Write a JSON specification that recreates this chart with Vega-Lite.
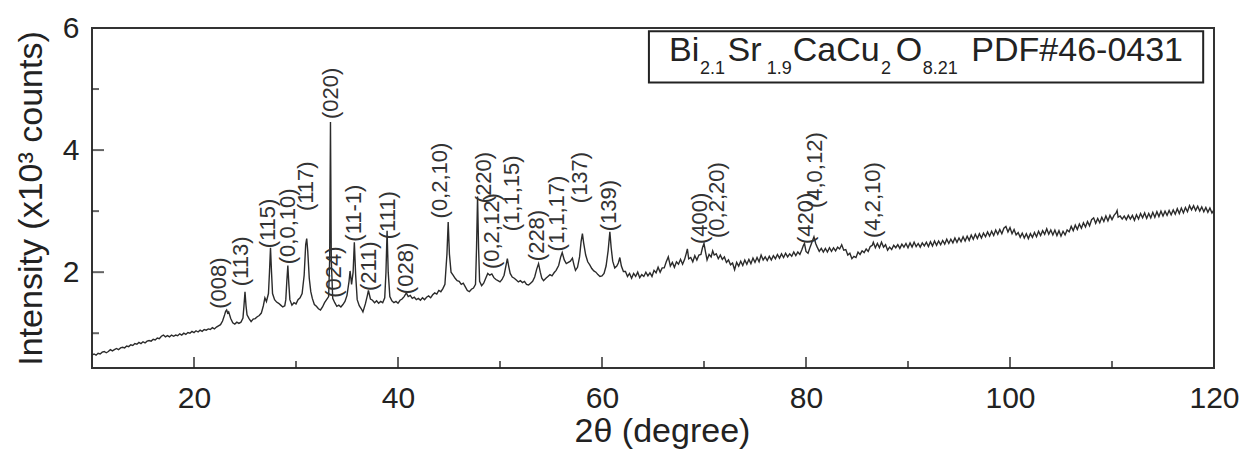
{
"$schema": "https://vega.github.io/schema/vega-lite/v6.json",
"width": 1122, "height": 340,
"autosize": "none",
"padding": {"left": 92, "top": 28, "right": 31, "bottom": 82},
"background": "white",
"config": {
  "view": {"stroke": "#333", "strokeWidth": 2},
  "font": "Liberation Sans",
  "axis": {"domain": false, "ticks": false, "tickSize": 0, "labelColor": "#222", "titleColor": "#222", "labelFont": "Liberation Sans", "titleFont": "Liberation Sans", "labelFontSize": 30, "titleFontSize": 34, "titleFontWeight": "normal", "grid": false, "labelFlush": false, "labelOverlap": false}
},
"datasets": {
"xrd": [
{"deg":10.0,"cnt":0.64},{"deg":10.2,"cnt":0.66},{"deg":10.4,"cnt":0.64},{"deg":10.6,"cnt":0.67},{"deg":10.8,"cnt":0.66},{"deg":11.0,"cnt":0.69},{"deg":11.2,"cnt":0.70},{"deg":11.4,"cnt":0.68},{"deg":11.6,"cnt":0.70},{"deg":11.8,"cnt":0.73},
{"deg":12.0,"cnt":0.71},{"deg":12.2,"cnt":0.73},{"deg":12.4,"cnt":0.75},{"deg":12.6,"cnt":0.73},{"deg":12.8,"cnt":0.76},{"deg":13.0,"cnt":0.77},{"deg":13.2,"cnt":0.76},{"deg":13.4,"cnt":0.79},{"deg":13.6,"cnt":0.78},{"deg":13.8,"cnt":0.81},
{"deg":14.0,"cnt":0.80},{"deg":14.2,"cnt":0.83},{"deg":14.4,"cnt":0.82},{"deg":14.6,"cnt":0.85},{"deg":14.8,"cnt":0.83},{"deg":15.0,"cnt":0.86},{"deg":15.2,"cnt":0.84},{"deg":15.4,"cnt":0.87},{"deg":15.6,"cnt":0.88},{"deg":15.8,"cnt":0.87},
{"deg":16.0,"cnt":0.90},{"deg":16.2,"cnt":0.89},{"deg":16.4,"cnt":0.92},{"deg":16.6,"cnt":0.91},{"deg":16.8,"cnt":0.95},{"deg":17.0,"cnt":0.97},{"deg":17.2,"cnt":0.94},{"deg":17.4,"cnt":0.96},{"deg":17.6,"cnt":0.94},{"deg":17.8,"cnt":0.97},
{"deg":18.0,"cnt":0.95},{"deg":18.2,"cnt":0.97},{"deg":18.4,"cnt":0.96},{"deg":18.6,"cnt":0.99},{"deg":18.8,"cnt":0.97},{"deg":19.0,"cnt":1.00},{"deg":19.2,"cnt":0.98},{"deg":19.4,"cnt":1.01},{"deg":19.6,"cnt":1.00},{"deg":19.8,"cnt":1.03},
{"deg":20.0,"cnt":1.01},{"deg":20.2,"cnt":1.04},{"deg":20.4,"cnt":1.02},{"deg":20.6,"cnt":1.05},{"deg":20.8,"cnt":1.03},{"deg":21.0,"cnt":1.06},{"deg":21.2,"cnt":1.05},{"deg":21.4,"cnt":1.07},{"deg":21.6,"cnt":1.06},{"deg":21.8,"cnt":1.09},
{"deg":22.0,"cnt":1.07},{"deg":22.2,"cnt":1.10},{"deg":22.4,"cnt":1.12},{"deg":22.6,"cnt":1.14},{"deg":22.8,"cnt":1.20},{"deg":23.0,"cnt":1.30},{"deg":23.1,"cnt":1.36},{"deg":23.2,"cnt":1.38},{"deg":23.3,"cnt":1.33},{"deg":23.4,"cnt":1.35},
{"deg":23.6,"cnt":1.24},{"deg":23.8,"cnt":1.17},{"deg":24.0,"cnt":1.15},{"deg":24.2,"cnt":1.18},{"deg":24.4,"cnt":1.16},{"deg":24.6,"cnt":1.18},{"deg":24.8,"cnt":1.25},{"deg":24.9,"cnt":1.45},{"deg":25.0,"cnt":1.68},{"deg":25.1,"cnt":1.45},
{"deg":25.2,"cnt":1.30},{"deg":25.4,"cnt":1.24},{"deg":25.6,"cnt":1.19},{"deg":25.8,"cnt":1.23},{"deg":26.0,"cnt":1.24},{"deg":26.2,"cnt":1.27},{"deg":26.4,"cnt":1.29},{"deg":26.6,"cnt":1.33},{"deg":26.8,"cnt":1.45},{"deg":26.95,"cnt":1.58},
{"deg":27.1,"cnt":1.52},{"deg":27.3,"cnt":1.65},{"deg":27.4,"cnt":2.00},{"deg":27.5,"cnt":2.40},{"deg":27.6,"cnt":2.00},{"deg":27.7,"cnt":1.65},{"deg":27.9,"cnt":1.55},{"deg":28.1,"cnt":1.51},{"deg":28.3,"cnt":1.49},{"deg":28.5,"cnt":1.46},
{"deg":28.7,"cnt":1.43},{"deg":28.9,"cnt":1.45},{"deg":29.0,"cnt":1.55},{"deg":29.1,"cnt":1.85},{"deg":29.2,"cnt":2.11},{"deg":29.3,"cnt":1.80},{"deg":29.4,"cnt":1.55},{"deg":29.6,"cnt":1.46},{"deg":29.8,"cnt":1.50},{"deg":30.0,"cnt":1.48},
{"deg":30.2,"cnt":1.55},{"deg":30.4,"cnt":1.58},{"deg":30.6,"cnt":1.65},{"deg":30.8,"cnt":1.95},{"deg":30.95,"cnt":2.45},{"deg":31.05,"cnt":2.55},{"deg":31.15,"cnt":2.35},{"deg":31.3,"cnt":1.90},{"deg":31.45,"cnt":1.68},{"deg":31.6,"cnt":1.57},
{"deg":31.8,"cnt":1.47},{"deg":32.0,"cnt":1.44},{"deg":32.2,"cnt":1.40},{"deg":32.4,"cnt":1.38},{"deg":32.6,"cnt":1.43},{"deg":32.8,"cnt":1.50},{"deg":33.0,"cnt":1.55},{"deg":33.2,"cnt":1.60},{"deg":33.3,"cnt":2.20},{"deg":33.38,"cnt":4.46},
{"deg":33.46,"cnt":2.20},{"deg":33.6,"cnt":1.57},{"deg":33.8,"cnt":1.50},{"deg":34.0,"cnt":1.44},{"deg":34.2,"cnt":1.46},{"deg":34.4,"cnt":1.43},{"deg":34.6,"cnt":1.47},{"deg":34.8,"cnt":1.52},{"deg":35.0,"cnt":1.62},{"deg":35.2,"cnt":1.85},
{"deg":35.3,"cnt":2.02},{"deg":35.45,"cnt":1.80},{"deg":35.6,"cnt":2.00},{"deg":35.72,"cnt":2.49},{"deg":35.85,"cnt":1.95},{"deg":36.0,"cnt":1.55},{"deg":36.2,"cnt":1.45},{"deg":36.4,"cnt":1.40},{"deg":36.56,"cnt":1.35},{"deg":36.8,"cnt":1.48},
{"deg":37.0,"cnt":1.62},{"deg":37.1,"cnt":1.70},{"deg":37.3,"cnt":1.56},{"deg":37.5,"cnt":1.54},{"deg":37.7,"cnt":1.50},{"deg":37.9,"cnt":1.53},{"deg":38.1,"cnt":1.49},{"deg":38.3,"cnt":1.52},{"deg":38.5,"cnt":1.50},{"deg":38.7,"cnt":1.58},
{"deg":38.82,"cnt":2.00},{"deg":38.93,"cnt":2.68},{"deg":39.04,"cnt":2.00},{"deg":39.2,"cnt":1.60},{"deg":39.4,"cnt":1.53},{"deg":39.6,"cnt":1.50},{"deg":39.8,"cnt":1.52},{"deg":40.0,"cnt":1.49},{"deg":40.2,"cnt":1.54},{"deg":40.4,"cnt":1.56},
{"deg":40.6,"cnt":1.60},{"deg":40.82,"cnt":1.66},{"deg":41.0,"cnt":1.60},{"deg":41.2,"cnt":1.62},{"deg":41.4,"cnt":1.57},{"deg":41.6,"cnt":1.59},{"deg":41.8,"cnt":1.55},{"deg":42.0,"cnt":1.57},{"deg":42.2,"cnt":1.54},{"deg":42.4,"cnt":1.58},
{"deg":42.6,"cnt":1.55},{"deg":42.8,"cnt":1.59},{"deg":43.0,"cnt":1.61},{"deg":43.2,"cnt":1.58},{"deg":43.4,"cnt":1.63},{"deg":43.6,"cnt":1.66},{"deg":43.8,"cnt":1.64},{"deg":44.0,"cnt":1.70},{"deg":44.2,"cnt":1.68},{"deg":44.4,"cnt":1.73},
{"deg":44.6,"cnt":1.80},{"deg":44.8,"cnt":2.30},{"deg":44.92,"cnt":2.82},{"deg":45.04,"cnt":2.30},{"deg":45.2,"cnt":2.00},{"deg":45.4,"cnt":1.95},{"deg":45.6,"cnt":1.90},{"deg":45.8,"cnt":1.86},{"deg":46.0,"cnt":1.85},{"deg":46.2,"cnt":1.80},
{"deg":46.4,"cnt":1.82},{"deg":46.6,"cnt":1.76},{"deg":46.8,"cnt":1.70},{"deg":47.0,"cnt":1.68},{"deg":47.2,"cnt":1.72},{"deg":47.4,"cnt":1.74},{"deg":47.6,"cnt":1.80},{"deg":47.7,"cnt":2.40},{"deg":47.8,"cnt":3.24},{"deg":47.9,"cnt":2.40},
{"deg":48.0,"cnt":1.85},{"deg":48.2,"cnt":1.78},{"deg":48.4,"cnt":1.82},{"deg":48.6,"cnt":1.90},{"deg":48.8,"cnt":1.98},{"deg":49.0,"cnt":1.95},{"deg":49.2,"cnt":1.97},{"deg":49.4,"cnt":1.91},{"deg":49.6,"cnt":1.88},{"deg":49.8,"cnt":1.86},
{"deg":50.0,"cnt":1.84},{"deg":50.2,"cnt":1.88},{"deg":50.4,"cnt":1.95},{"deg":50.6,"cnt":2.12},{"deg":50.72,"cnt":2.22},{"deg":50.85,"cnt":2.10},{"deg":51.0,"cnt":1.98},{"deg":51.2,"cnt":1.92},{"deg":51.4,"cnt":1.90},{"deg":51.6,"cnt":1.87},
{"deg":51.8,"cnt":1.84},{"deg":52.0,"cnt":1.86},{"deg":52.2,"cnt":1.83},{"deg":52.4,"cnt":1.85},{"deg":52.6,"cnt":1.80},{"deg":52.8,"cnt":1.79},{"deg":53.0,"cnt":1.82},{"deg":53.2,"cnt":1.85},{"deg":53.4,"cnt":1.92},{"deg":53.6,"cnt":2.05},
{"deg":53.78,"cnt":2.14},{"deg":53.95,"cnt":2.00},{"deg":54.1,"cnt":1.90},{"deg":54.27,"cnt":1.86},{"deg":54.5,"cnt":1.90},{"deg":54.7,"cnt":1.93},{"deg":54.9,"cnt":1.96},{"deg":55.1,"cnt":1.94},{"deg":55.3,"cnt":1.99},{"deg":55.5,"cnt":2.03},
{"deg":55.75,"cnt":2.11},{"deg":55.95,"cnt":2.25},{"deg":56.1,"cnt":2.32},{"deg":56.3,"cnt":2.20},{"deg":56.5,"cnt":2.14},{"deg":56.7,"cnt":2.16},{"deg":56.9,"cnt":2.18},{"deg":57.1,"cnt":2.23},{"deg":57.25,"cnt":2.12},{"deg":57.4,"cnt":2.03},
{"deg":57.6,"cnt":2.08},{"deg":57.8,"cnt":2.25},{"deg":57.95,"cnt":2.50},{"deg":58.08,"cnt":2.63},{"deg":58.2,"cnt":2.48},{"deg":58.4,"cnt":2.28},{"deg":58.6,"cnt":2.17},{"deg":58.8,"cnt":2.12},{"deg":59.0,"cnt":2.06},{"deg":59.2,"cnt":2.02},
{"deg":59.4,"cnt":2.00},{"deg":59.6,"cnt":1.96},{"deg":59.8,"cnt":1.93},{"deg":60.0,"cnt":1.94},{"deg":60.2,"cnt":1.98},{"deg":60.4,"cnt":2.10},{"deg":60.6,"cnt":2.35},{"deg":60.77,"cnt":2.66},{"deg":60.9,"cnt":2.40},{"deg":61.05,"cnt":2.18},
{"deg":61.25,"cnt":2.07},{"deg":61.45,"cnt":2.10},{"deg":61.6,"cnt":2.15},{"deg":61.75,"cnt":2.24},{"deg":61.9,"cnt":2.10},{"deg":62.1,"cnt":2.01},
{"deg":62.3,"cnt":2.01},{"deg":62.5,"cnt":1.93},{"deg":62.7,"cnt":1.98},{"deg":62.9,"cnt":1.90},{"deg":63.1,"cnt":1.98},{"deg":63.3,"cnt":1.93},{"deg":63.5,"cnt":2.00},{"deg":63.7,"cnt":1.91},{"deg":63.9,"cnt":1.96},{"deg":64.1,"cnt":1.93},
{"deg":64.3,"cnt":2.00},{"deg":64.5,"cnt":1.94},{"deg":64.7,"cnt":1.99},{"deg":64.9,"cnt":1.93},{"deg":65.1,"cnt":2.03},{"deg":65.3,"cnt":1.99},{"deg":65.5,"cnt":2.08},{"deg":65.7,"cnt":2.00},{"deg":65.9,"cnt":2.07},{"deg":66.1,"cnt":2.07},
{"deg":66.3,"cnt":2.17},{"deg":66.5,"cnt":2.25},{"deg":66.7,"cnt":2.10},{"deg":66.9,"cnt":2.16},{"deg":67.1,"cnt":2.08},{"deg":67.3,"cnt":2.17},{"deg":67.5,"cnt":2.13},{"deg":67.7,"cnt":2.21},{"deg":67.9,"cnt":2.13},{"deg":68.1,"cnt":2.21},
{"deg":68.25,"cnt":2.30},{"deg":68.37,"cnt":2.38},{"deg":68.5,"cnt":2.22},{"deg":68.7,"cnt":2.24},{"deg":68.9,"cnt":2.17},{"deg":69.1,"cnt":2.27},{"deg":69.3,"cnt":2.20},{"deg":69.5,"cnt":2.28},{"deg":69.7,"cnt":2.29},{"deg":69.85,"cnt":2.40},
{"deg":70.0,"cnt":2.47},{"deg":70.15,"cnt":2.33},{"deg":70.3,"cnt":2.20},{"deg":70.5,"cnt":2.29},{"deg":70.7,"cnt":2.25},{"deg":70.85,"cnt":2.35},{"deg":71.0,"cnt":2.28},{"deg":71.2,"cnt":2.30},{"deg":71.4,"cnt":2.22},{"deg":71.6,"cnt":2.28},
{"deg":71.8,"cnt":2.21},{"deg":72.0,"cnt":2.25},{"deg":72.2,"cnt":2.16},{"deg":72.4,"cnt":2.20},{"deg":72.6,"cnt":2.12},{"deg":72.8,"cnt":2.15},{"deg":73.0,"cnt":2.04},{"deg":73.2,"cnt":2.16},{"deg":73.4,"cnt":2.10},{"deg":73.6,"cnt":2.18},
{"deg":73.8,"cnt":2.11},{"deg":74.0,"cnt":2.20},{"deg":74.2,"cnt":2.13},{"deg":74.4,"cnt":2.21},{"deg":74.6,"cnt":2.14},{"deg":74.8,"cnt":2.23},{"deg":75.0,"cnt":2.16},{"deg":75.2,"cnt":2.24},{"deg":75.4,"cnt":2.17},{"deg":75.6,"cnt":2.28},
{"deg":75.8,"cnt":2.20},{"deg":76.0,"cnt":2.25},{"deg":76.2,"cnt":2.19},{"deg":76.4,"cnt":2.26},{"deg":76.6,"cnt":2.20},{"deg":76.8,"cnt":2.27},{"deg":77.0,"cnt":2.22},{"deg":77.2,"cnt":2.29},{"deg":77.4,"cnt":2.23},{"deg":77.6,"cnt":2.30},
{"deg":77.8,"cnt":2.24},{"deg":78.0,"cnt":2.31},{"deg":78.2,"cnt":2.25},{"deg":78.4,"cnt":2.30},{"deg":78.6,"cnt":2.26},{"deg":78.8,"cnt":2.33},{"deg":79.0,"cnt":2.27},{"deg":79.2,"cnt":2.33},{"deg":79.4,"cnt":2.29},{"deg":79.6,"cnt":2.37},
{"deg":79.75,"cnt":2.44},{"deg":79.85,"cnt":2.47},{"deg":80.0,"cnt":2.34},{"deg":80.2,"cnt":2.31},{"deg":80.4,"cnt":2.41},{"deg":80.6,"cnt":2.50},{"deg":80.78,"cnt":2.58},{"deg":80.95,"cnt":2.47},{"deg":81.1,"cnt":2.41},{"deg":81.3,"cnt":2.34},
{"deg":81.5,"cnt":2.39},{"deg":81.7,"cnt":2.33},{"deg":81.9,"cnt":2.39},{"deg":82.1,"cnt":2.33},{"deg":82.3,"cnt":2.40},{"deg":82.5,"cnt":2.34},{"deg":82.7,"cnt":2.40},{"deg":82.9,"cnt":2.35},{"deg":83.1,"cnt":2.41},{"deg":83.3,"cnt":2.38},
{"deg":83.5,"cnt":2.45},{"deg":83.7,"cnt":2.36},{"deg":83.9,"cnt":2.37},{"deg":84.1,"cnt":2.28},{"deg":84.3,"cnt":2.31},{"deg":84.5,"cnt":2.22},{"deg":84.7,"cnt":2.26},{"deg":84.9,"cnt":2.24},{"deg":85.1,"cnt":2.33},{"deg":85.3,"cnt":2.29},
{"deg":85.5,"cnt":2.35},{"deg":85.7,"cnt":2.32},{"deg":85.9,"cnt":2.38},{"deg":86.1,"cnt":2.34},{"deg":86.3,"cnt":2.42},{"deg":86.5,"cnt":2.44},{"deg":86.6,"cnt":2.49},{"deg":86.8,"cnt":2.40},{"deg":87.0,"cnt":2.47},{"deg":87.2,"cnt":2.40},
{"deg":87.4,"cnt":2.49},{"deg":87.6,"cnt":2.41},{"deg":87.8,"cnt":2.45},{"deg":88.0,"cnt":2.36},{"deg":88.2,"cnt":2.41},{"deg":88.4,"cnt":2.37},{"deg":88.6,"cnt":2.44},{"deg":88.8,"cnt":2.40},{"deg":89.0,"cnt":2.45},{"deg":89.2,"cnt":2.39},
{"deg":89.4,"cnt":2.46},{"deg":89.6,"cnt":2.41},{"deg":89.8,"cnt":2.47},{"deg":90.0,"cnt":2.40},{"deg":90.2,"cnt":2.48},{"deg":90.4,"cnt":2.41},{"deg":90.6,"cnt":2.49},{"deg":90.8,"cnt":2.42},{"deg":91.0,"cnt":2.47},{"deg":91.2,"cnt":2.41},
{"deg":91.4,"cnt":2.48},{"deg":91.6,"cnt":2.43},{"deg":91.8,"cnt":2.49},{"deg":92.0,"cnt":2.42},{"deg":92.2,"cnt":2.50},{"deg":92.4,"cnt":2.43},{"deg":92.6,"cnt":2.51},{"deg":92.8,"cnt":2.44},{"deg":93.0,"cnt":2.51},{"deg":93.2,"cnt":2.45},
{"deg":93.4,"cnt":2.52},{"deg":93.6,"cnt":2.46},{"deg":93.8,"cnt":2.54},{"deg":94.0,"cnt":2.47},{"deg":94.2,"cnt":2.54},{"deg":94.4,"cnt":2.48},{"deg":94.6,"cnt":2.56},{"deg":94.8,"cnt":2.49},{"deg":95.0,"cnt":2.56},{"deg":95.2,"cnt":2.50},
{"deg":95.4,"cnt":2.58},{"deg":95.6,"cnt":2.51},{"deg":95.8,"cnt":2.59},{"deg":96.0,"cnt":2.52},{"deg":96.2,"cnt":2.61},{"deg":96.4,"cnt":2.54},{"deg":96.6,"cnt":2.62},{"deg":96.8,"cnt":2.55},{"deg":97.0,"cnt":2.63},{"deg":97.2,"cnt":2.56},
{"deg":97.4,"cnt":2.64},{"deg":97.6,"cnt":2.58},{"deg":97.8,"cnt":2.66},{"deg":98.0,"cnt":2.59},{"deg":98.2,"cnt":2.67},{"deg":98.4,"cnt":2.60},{"deg":98.6,"cnt":2.69},{"deg":98.8,"cnt":2.62},{"deg":99.0,"cnt":2.70},{"deg":99.2,"cnt":2.63},
{"deg":99.4,"cnt":2.72},{"deg":99.6,"cnt":2.75},{"deg":99.8,"cnt":2.66},{"deg":100.0,"cnt":2.73},{"deg":100.2,"cnt":2.63},{"deg":100.4,"cnt":2.70},{"deg":100.6,"cnt":2.61},{"deg":100.8,"cnt":2.65},{"deg":101.0,"cnt":2.57},{"deg":101.2,"cnt":2.64},
{"deg":101.4,"cnt":2.56},{"deg":101.6,"cnt":2.63},{"deg":101.8,"cnt":2.55},{"deg":102.0,"cnt":2.63},{"deg":102.2,"cnt":2.57},{"deg":102.4,"cnt":2.65},{"deg":102.6,"cnt":2.58},{"deg":102.8,"cnt":2.67},{"deg":103.0,"cnt":2.60},{"deg":103.2,"cnt":2.68},
{"deg":103.4,"cnt":2.62},{"deg":103.6,"cnt":2.71},{"deg":103.8,"cnt":2.62},{"deg":104.0,"cnt":2.69},{"deg":104.2,"cnt":2.61},{"deg":104.4,"cnt":2.69},{"deg":104.6,"cnt":2.60},{"deg":104.8,"cnt":2.68},{"deg":105.0,"cnt":2.59},{"deg":105.2,"cnt":2.67},
{"deg":105.4,"cnt":2.61},{"deg":105.6,"cnt":2.69},{"deg":105.8,"cnt":2.66},{"deg":106.0,"cnt":2.75},{"deg":106.2,"cnt":2.68},{"deg":106.4,"cnt":2.77},{"deg":106.6,"cnt":2.70},{"deg":106.8,"cnt":2.79},{"deg":107.0,"cnt":2.72},{"deg":107.2,"cnt":2.81},
{"deg":107.4,"cnt":2.74},{"deg":107.6,"cnt":2.83},{"deg":107.8,"cnt":2.76},{"deg":108.0,"cnt":2.86},{"deg":108.2,"cnt":2.89},{"deg":108.4,"cnt":2.80},{"deg":108.6,"cnt":2.88},{"deg":108.8,"cnt":2.81},{"deg":109.0,"cnt":2.90},{"deg":109.2,"cnt":2.83},
{"deg":109.4,"cnt":2.92},{"deg":109.6,"cnt":2.84},{"deg":109.8,"cnt":2.93},{"deg":110.0,"cnt":2.86},{"deg":110.2,"cnt":2.93},{"deg":110.4,"cnt":2.97},{"deg":110.5,"cnt":3.01},{"deg":110.6,"cnt":2.90},{"deg":110.8,"cnt":2.92},{"deg":111.0,"cnt":2.87},
{"deg":111.2,"cnt":2.92},{"deg":111.4,"cnt":2.86},{"deg":111.6,"cnt":2.93},{"deg":111.8,"cnt":2.87},{"deg":112.0,"cnt":2.93},{"deg":112.2,"cnt":2.85},{"deg":112.4,"cnt":2.94},{"deg":112.6,"cnt":2.87},{"deg":112.8,"cnt":2.96},{"deg":113.0,"cnt":2.89},
{"deg":113.2,"cnt":2.97},{"deg":113.4,"cnt":2.88},{"deg":113.6,"cnt":2.96},{"deg":113.8,"cnt":2.89},{"deg":114.0,"cnt":2.98},{"deg":114.2,"cnt":2.90},{"deg":114.4,"cnt":2.99},{"deg":114.6,"cnt":2.91},{"deg":114.8,"cnt":3.00},{"deg":115.0,"cnt":2.92},
{"deg":115.2,"cnt":3.00},{"deg":115.4,"cnt":2.93},{"deg":115.6,"cnt":3.01},{"deg":115.8,"cnt":2.94},{"deg":116.0,"cnt":3.02},{"deg":116.2,"cnt":2.95},{"deg":116.4,"cnt":3.04},{"deg":116.6,"cnt":2.96},{"deg":116.8,"cnt":3.05},{"deg":117.0,"cnt":2.97},
{"deg":117.2,"cnt":3.06},{"deg":117.4,"cnt":2.99},{"deg":117.6,"cnt":3.09},{"deg":117.8,"cnt":3.02},{"deg":118.0,"cnt":3.09},{"deg":118.2,"cnt":3.01},{"deg":118.4,"cnt":3.08},{"deg":118.6,"cnt":3.00},{"deg":118.8,"cnt":3.07},{"deg":119.0,"cnt":2.99},
{"deg":119.2,"cnt":3.06},{"deg":119.4,"cnt":2.98},{"deg":119.6,"cnt":3.05},{"deg":119.8,"cnt":2.97},{"deg":120.0,"cnt":3.02}
],
"peaks": [
{"deg":22.43,"cnt":1.40,"hkl":"(008)"},{"deg":24.59,"cnt":1.77,"hkl":"(113)"},{"deg":27.25,"cnt":2.39,"hkl":"(115)"},{"deg":29.21,"cnt":2.13,"hkl":"(0,0,10)"},{"deg":31.0,"cnt":3.0,"hkl":"(117)"},
{"deg":33.44,"cnt":4.51,"hkl":"(020)"},{"deg":33.74,"cnt":1.58,"hkl":"(024)"},{"deg":35.71,"cnt":2.5,"hkl":"(11-1)"},{"deg":37.18,"cnt":1.69,"hkl":"(211)"},{"deg":39.05,"cnt":2.54,"hkl":"(111)"},
{"deg":40.82,"cnt":1.64,"hkl":"(028)"},{"deg":44.07,"cnt":2.88,"hkl":"(0,2,10)"},{"deg":48.4,"cnt":3.13,"hkl":"(220)"},{"deg":49.18,"cnt":2.05,"hkl":"(0,2,12)"},{"deg":51.15,"cnt":2.67,"hkl":"(1,1,15)"},
{"deg":53.61,"cnt":2.18,"hkl":"(228)"},{"deg":55.58,"cnt":2.34,"hkl":"(1,1,17)"},{"deg":57.84,"cnt":3.13,"hkl":"(137)"},{"deg":60.69,"cnt":2.67,"hkl":"(139)"},{"deg":69.64,"cnt":2.46,"hkl":"(400)"},
{"deg":71.32,"cnt":2.56,"hkl":"(0,2,20)"},{"deg":79.97,"cnt":2.46,"hkl":"(420)"},{"deg":80.86,"cnt":3.05,"hkl":"(4,0,12)"},{"deg":86.57,"cnt":2.56,"hkl":"(4,2,10)"}
],
"xmajor": [{"deg":20},{"deg":40},{"deg":60},{"deg":80},{"deg":100}],
"xminor": [{"deg":30},{"deg":50},{"deg":70},{"deg":90},{"deg":110}],
"ymajor": [{"cnt":2},{"cnt":4}],
"yminor": [{"cnt":1},{"cnt":3},{"cnt":5}],
"box": [{"x1":64.6,"x2":118.94,"y1":5.108,"y2":5.945}],
"formula": [
{"deg":66.57,"cnt":5.467,"txt":"Bi"},{"deg":72.3,"cnt":5.467,"txt":"Sr"},{"deg":78.7,"cnt":5.467,"txt":"CaCu"},{"deg":88.8,"cnt":5.467,"txt":"O"},{"deg":96.21,"cnt":5.467,"txt":"PDF#46-0431"}
],
"subs": [
{"deg":69.6,"cnt":5.239,"txt":"2.1"},{"deg":76.14,"cnt":5.239,"txt":"1.9"},{"deg":87.35,"cnt":5.239,"txt":"2"},{"deg":91.45,"cnt":5.239,"txt":"8.21"}
]
},
"resolve": {"axis": {"x": "independent", "y": "independent"}},
"layer": [
{
 "data": {"name": "xrd"},
 "mark": {"type": "line", "color": "#2b2b2b", "strokeWidth": 1.4},
 "encoding": {
  "x": {"field": "deg", "type": "quantitative", "scale": {"domain": [10, 120], "nice": false, "zero": false},
        "axis": {"title": "2θ (degree)", "orient": "bottom", "values": [20, 40, 60, 80, 100, 120], "labelPadding": 15, "titlePadding": 1, "titleX": 570}},
  "y": {"field": "cnt", "type": "quantitative", "scale": {"domain": [0.43, 6], "nice": false, "zero": false},
        "axis": {"title": "Intensity (x10³ counts)", "orient": "left", "values": [2, 4, 6], "labelPadding": 13, "titlePadding": 14}}
 }
},
{
 "data": {"name": "xmajor"},
 "mark": {"type": "tick", "orient": "vertical", "size": 22, "thickness": 2, "color": "#222", "clip": true},
 "encoding": {"x": {"field": "deg", "type": "quantitative", "axis": null}, "y": {"datum": 0.43, "type": "quantitative", "axis": null}}
},
{
 "data": {"name": "xminor"},
 "mark": {"type": "tick", "orient": "vertical", "size": 14, "thickness": 2, "color": "#222", "clip": true},
 "encoding": {"x": {"field": "deg", "type": "quantitative", "axis": null}, "y": {"datum": 0.43, "type": "quantitative", "axis": null}}
},
{
 "data": {"name": "ymajor"},
 "mark": {"type": "tick", "orient": "horizontal", "size": 24, "thickness": 2, "color": "#222", "clip": true},
 "encoding": {"y": {"field": "cnt", "type": "quantitative", "axis": null}, "x": {"datum": 10, "type": "quantitative", "axis": null}}
},
{
 "data": {"name": "yminor"},
 "mark": {"type": "tick", "orient": "horizontal", "size": 14, "thickness": 2, "color": "#222", "clip": true},
 "encoding": {"y": {"field": "cnt", "type": "quantitative", "axis": null}, "x": {"datum": 10, "type": "quantitative", "axis": null}}
},
{
 "data": {"name": "peaks"},
 "mark": {"type": "text", "angle": 270, "align": "left", "baseline": "middle", "fontSize": 22, "color": "#333", "font": "Liberation Sans"},
 "encoding": {
  "x": {"field": "deg", "type": "quantitative", "axis": null},
  "y": {"field": "cnt", "type": "quantitative", "axis": null},
  "text": {"field": "hkl"}
 }
},
{
 "data": {"name": "box"},
 "mark": {"type": "rect", "fill": "white", "stroke": "#222", "strokeWidth": 2},
 "encoding": {
  "x": {"field": "x1", "type": "quantitative", "axis": null},
  "x2": {"field": "x2"},
  "y": {"field": "y1", "type": "quantitative", "axis": null},
  "y2": {"field": "y2"}
 }
},
{
 "data": {"name": "formula"},
 "mark": {"type": "text", "align": "left", "baseline": "alphabetic", "fontSize": 34, "color": "#222", "font": "Liberation Sans"},
 "encoding": {
  "x": {"field": "deg", "type": "quantitative", "axis": null},
  "y": {"field": "cnt", "type": "quantitative", "axis": null},
  "text": {"field": "txt"}
 }
},
{
 "data": {"name": "subs"},
 "mark": {"type": "text", "align": "left", "baseline": "alphabetic", "fontSize": 18, "color": "#222", "font": "Liberation Sans"},
 "encoding": {
  "x": {"field": "deg", "type": "quantitative", "axis": null},
  "y": {"field": "cnt", "type": "quantitative", "axis": null},
  "text": {"field": "txt"}
 }
}
]
}
